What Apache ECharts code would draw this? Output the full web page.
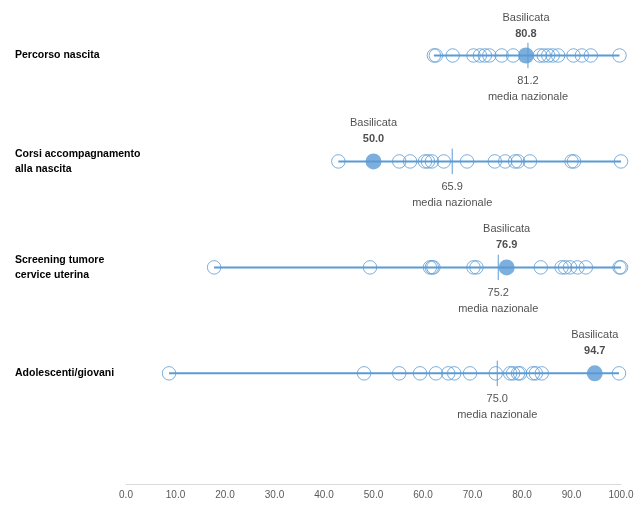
<!DOCTYPE html>
<html>
<head>
<meta charset="utf-8">
<script src="https://cdn.jsdelivr.net/npm/echarts@6/dist/echarts.min.js"></script>
<style>html,body{margin:0;padding:0;background:#fff;}#c{width:643px;height:511px;}</style>
</head>
<body>
<div id="c"></div>
<script>
var categories = ['Percorso nascita', 'Corsi accompagnamento\nalla nascita', 'Screening tumore\ncervice uterina', 'Adolescenti/giovani'];
var regionsPercorso = [62.2, 62.6, 66.0, 70.2, 71.5, 72.5, 73.4, 75.9, 78.2, 83.6, 84.4, 85.3, 86.2, 87.3, 90.4, 92.1, 93.9, 99.7];
var regionsCorsi = [42.9, 55.2, 57.4, 60.4, 61.0, 61.8, 64.2, 68.9, 74.5, 76.6, 78.6, 79.2, 81.6, 90.0, 90.5, 100.0];
var regionsScreening = [17.8, 49.3, 61.4, 61.8, 62.1, 70.2, 70.8, 83.8, 88.0, 88.7, 89.7, 91.2, 92.9, 99.7, 100.0];
var regionsAdolescenti = [8.7, 48.1, 55.2, 59.4, 62.6, 65.1, 66.3, 69.5, 74.7, 77.6, 78.2, 79.2, 79.6, 82.2, 82.8, 84.0, 99.6];
var basilicata = [80.8, 50.0, 76.9, 94.7];
var mediaNazionale = [81.2, 65.9, 75.2, 75.0];
var xTicks = [0, 10, 20, 30, 40, 50, 60, 70, 80, 90, 100];

var regions = [regionsPercorso, regionsCorsi, regionsScreening, regionsAdolescenti];
var blue = '#5b9bd5';
var txt = '#1f1f1f';
var series = [];
categories.forEach(function (cat, i) {
  var y = categories.length - i;
  var all = regions[i].concat([basilicata[i]]);
  var mn = Math.min.apply(null, all), mx = Math.max.apply(null, all);
  series.push({
    type: 'line', z: 1, silent: true, symbol: 'none',
    lineStyle: { color: blue, width: 2 },
    data: [[mn, y], [mx, y]]
  });
  series.push({
    type: 'line', z: 2, silent: true, symbol: 'none',
    lineStyle: { color: blue, width: 1 },
    data: [[mediaNazionale[i], y - 0.12], [mediaNazionale[i], y + 0.12]]
  });
  series.push({
    type: 'scatter', z: 3, symbol: 'circle', symbolSize: 13.5,
    itemStyle: { color: 'rgba(255,255,255,0)', borderColor: blue, borderWidth: 1 },
    data: regions[i].map(function (v) { return [v, y]; })
  });
  series.push({
    type: 'scatter', z: 4, symbol: 'circle', symbolSize: 16,
    itemStyle: { color: blue },
    label: {
      show: true, position: 'top', distance: 6,
      formatter: function () { return '{a|Basilicata}\n{b|' + basilicata[i].toFixed(1) + '}'; },
      rich: {
        a: { fontFamily: 'Liberation Sans', fontSize: 11, color: txt, lineHeight: 16 },
        b: { fontFamily: 'Liberation Sans', fontSize: 11, fontWeight: 'bold', color: txt, lineHeight: 16 }
      }
    },
    data: [[basilicata[i], y]]
  });
  series.push({
    type: 'scatter', z: 4, symbol: 'circle', symbolSize: 1,
    itemStyle: { color: 'rgba(0,0,0,0)' },
    label: {
      show: true, position: 'bottom', distance: 17,
      formatter: function () { return mediaNazionale[i].toFixed(1) + '\nmedia nazionale'; },
      fontFamily: 'Liberation Sans', fontSize: 11, color: txt, lineHeight: 16
    },
    data: [[mediaNazionale[i], y]]
  });
});

var chart = echarts.init(document.getElementById('c'));
chart.setOption({
  animation: false,
  grid: { left: 126, right: 22, top: 1, bottom: 31.7 },
  xAxis: {
    type: 'value', min: xTicks[0], max: xTicks[xTicks.length - 1], interval: 10, offset: 5,
    axisLine: { show: true, onZero: false, lineStyle: { color: '#d9d9d9', width: 1 } },
    axisTick: { show: false },
    splitLine: { show: false },
    axisLabel: { fontFamily: 'Liberation Sans', fontSize: 10, color: '#595959', margin: 6,
      formatter: function (v) { return v.toFixed(1); } }
  },
  yAxis: {
    type: 'value', min: 0, max: 4.5, interval: 0.5,
    axisLine: { show: false }, axisTick: { show: false }, splitLine: { show: false },
    axisLabel: {
      align: 'left', margin: 111, fontFamily: 'Liberation Sans', fontSize: 10.5, fontWeight: 'bold',
      color: '#000', lineHeight: 15, padding: [5, 0, 0, 0],
      formatter: function (v) {
        var idx = categories.length - v;
        if (Math.abs(v - Math.round(v)) < 1e-9 && idx >= 0 && idx < categories.length) return categories[idx];
        return '';
      }
    }
  },
  series: series
});
</script>
</body>
</html>
